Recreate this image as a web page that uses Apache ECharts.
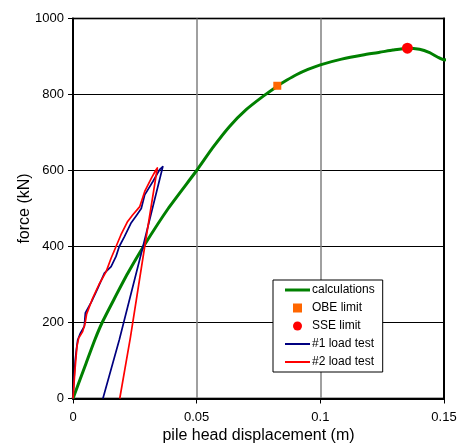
<!DOCTYPE html>
<html>
<head>
<meta charset="utf-8">
<script src="https://cdn.jsdelivr.net/npm/echarts@6/dist/echarts.min.js"></script>
<style>
html,body{margin:0;padding:0;background:#fff;}
#chart{width:460px;height:443px;}
</style>
</head>
<body>
<div id="chart"></div>
<script>
// ---- data (displacement in m, force in kN) ----
const calcDisp  = [0, 0.0053, 0.0088, 0.0118, 0.0165, 0.0222, 0.0285, 0.0385, 0.05, 0.0565, 0.0633, 0.070, 0.0768, 0.0826, 0.0865, 0.0903, 0.095, 0.1, 0.1086, 0.1172, 0.124, 0.1293, 0.135, 0.1401, 0.1442, 0.1475, 0.1502, 0.1523];
const calcForce = [0, 93, 154, 200, 260, 330, 400, 500, 600, 660, 716, 760, 795, 822, 838, 852, 866, 878, 893, 904, 911, 917, 922, 919, 910, 898, 891, 892];

const obeDisp = [0.0826];
const obeForce = [823];
const sseDisp = [0.1352];
const sseForce = [922];

const test1Disp  = [0, 0.0004, 0.0009, 0.0014, 0.0019, 0.003, 0.0046, 0.0048, 0.005, 0.0057, 0.0075, 0.01, 0.0127, 0.0154, 0.0174, 0.0187, 0.0208, 0.0234, 0.0258, 0.0276, 0.029, 0.0323, 0.035, 0.0363, 0.0283, 0.0187, 0.0121];
const test1Force = [0, 50, 100, 130, 154, 172, 190, 210, 225, 229, 255, 290, 330, 347, 374, 400, 426, 461, 483, 500, 536, 571, 602, 610, 400, 154, 0];

const test2Disp  = [0, 0.0008, 0.0016, 0.0023, 0.0039, 0.0049, 0.0055, 0.0077, 0.0105, 0.0134, 0.0154, 0.0174, 0.0194, 0.0221, 0.0241, 0.027, 0.029, 0.0317, 0.0334, 0.0341, 0.029, 0.0232, 0.0189];
const test2Force = [0, 75, 137, 159, 176, 198, 222, 260, 300, 334, 369, 400, 431, 466, 483, 505, 545, 580, 600, 607, 400, 160, 0];

const xTicks = [0, 0.05, 0.1, 0.15];
const yTicks = [0, 200, 400, 600, 800, 1000];

const zip = (a, b) => a.map((v, i) => [v, b[i]]);

const FONT = 'Liberation Sans, Arial, sans-serif';
const chart = echarts.init(document.getElementById('chart'), null, {renderer: 'canvas'});

chart.setOption({
  animation: false,
  backgroundColor: '#fff',
  grid: {left: 73, top: 18.5, right: 16, bottom: 44.5, show: true, borderColor: '#606060', borderWidth: 2,
         backgroundColor: 'transparent', containLabel: false, outerBoundsMode: 'none'},
  xAxis: {
    type: 'value', min: xTicks[0], max: xTicks[xTicks.length - 1], interval: 0.05,
    name: 'pile head displacement (m)', nameLocation: 'middle', nameGap: 29, nameMoveOverlap: false,
    nameTextStyle: {fontFamily: FONT, fontSize: 16, color: '#000'},
    axisLine: {show: true, lineStyle: {color: '#000', width: 2}},
    axisTick: {show: true, inside: false, length: 5, lineStyle: {color: '#000', width: 1}},
    axisLabel: {fontFamily: FONT, fontSize: 13, color: '#000', margin: 12,
      formatter: v => String(parseFloat(v.toFixed(4)))},
    splitLine: {show: true, lineStyle: {color: '#808080', width: 1.5}}
  },
  yAxis: [{
    type: 'value', min: yTicks[0], max: yTicks[yTicks.length - 1], interval: 200,
    name: 'force (kN)', nameLocation: 'middle', nameGap: 40, nameRotate: 90, nameMoveOverlap: false,
    nameTextStyle: {fontFamily: FONT, fontSize: 16, color: '#000'},
    axisLine: {show: true, lineStyle: {color: '#000', width: 2}},
    axisTick: {show: true, inside: false, length: 5, lineStyle: {color: '#000', width: 1}},
    axisLabel: {fontFamily: FONT, fontSize: 13, color: '#000', margin: 9, formatter: v => String(v)},
    splitLine: {show: true, lineStyle: {color: '#000', width: 1}}
  }, {
    type: 'value', position: 'right', min: 0, max: 1000, interval: 200,
    axisLine: {show: true, lineStyle: {color: '#000', width: 2}},
    axisTick: {show: false}, axisLabel: {show: false}, splitLine: {show: false}
  }],
  legend: {
    orient: 'vertical', left: 273, top: 280,
    backgroundColor: '#fff', borderColor: '#000', borderWidth: 1, borderRadius: 0,
    padding: [4, 8, 4, 12], itemGap: 6, itemWidth: 25, itemHeight: 9, symbolKeepAspect: true,
    textStyle: {fontFamily: FONT, fontSize: 12, color: '#000', padding: [0, 0, 0, -3]},
    data: [
      {name: 'calculations', icon: 'path://M0,0L25,0L25,3L0,3Z'},
      {name: 'OBE limit', icon: 'path://M0,0L8,0L8,8L0,8Z'},
      {name: 'SSE limit', icon: 'circle'},
      {name: '#1 load test', icon: 'path://M0,0L25,0L25,2L0,2Z'},
      {name: '#2 load test', icon: 'path://M0,0L25,0L25,2L0,2Z'}
    ]
  },
  series: [
    {name: 'calculations', type: 'line', data: zip(calcDisp, calcForce), symbol: 'none',
     smooth: 0.2, clip: false,
     lineStyle: {color: '#008000', width: 3, join: 'round'}, itemStyle: {color: '#008000'}, z: 2},
    {name: '#1 load test', type: 'line', data: zip(test1Disp, test1Force), symbol: 'none',
     lineStyle: {color: '#000080', width: 1.7, join: 'round'}, itemStyle: {color: '#000080'}, z: 3},
    {name: '#2 load test', type: 'line', data: zip(test2Disp, test2Force), symbol: 'none',
     lineStyle: {color: '#ff0000', width: 1.7, join: 'round'}, itemStyle: {color: '#ff0000'}, z: 4},
    {name: 'OBE limit', type: 'scatter', data: zip(obeDisp, obeForce), symbol: 'rect', symbolSize: 8,
     itemStyle: {color: '#ff6600', opacity: 1}, z: 5},
    {name: 'SSE limit', type: 'scatter', data: zip(sseDisp, sseForce), symbol: 'circle', symbolSize: 11,
     itemStyle: {color: '#ff0000', opacity: 1}, z: 5}
  ]
});
</script>
</body>
</html>
